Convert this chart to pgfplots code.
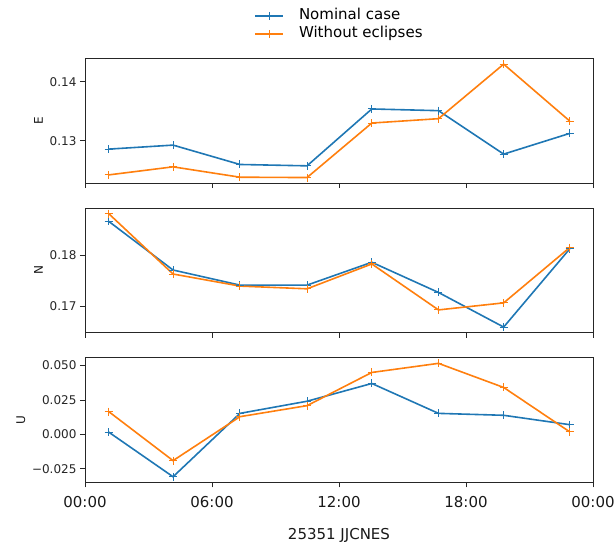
\documentclass[border=0pt]{standalone}
\usepackage{fontspec}
\setmainfont{DejaVu Sans}
\usepackage{pgfplots}
\pgfplotsset{compat=1.18}
\definecolor{tabblue}{HTML}{1F77B4}
\definecolor{taborange}{HTML}{FF7F0E}
\pgfplotstableread{
t      Eb      Eo      Nb      No      Ub      Uo
1.12   0.12858 0.12420 0.18660 0.18810 0.0017  0.0166
4.16   0.12926 0.12557 0.17712 0.17634 -0.0307 -0.0190
7.32   0.12597 0.12381 0.17418 0.17399 0.0153  0.0129
10.49  0.12574 0.12375 0.17418 0.17346 0.0241  0.0209
13.55  0.13540 0.13301 0.17863 0.17830 0.0370  0.0450
16.70  0.13511 0.13375 0.17275 0.16935 0.0153  0.0516
19.78  0.12773 0.14301 0.16601 0.17072 0.0139  0.0341
22.90  0.13125 0.13335 0.18124 0.18150 0.0071  0.0019
}\data
\pgfplotsset{
  panel/.style={
    scale only axis, width=508pt, height=124.7pt,
    xmin=0, xmax=24, xtick={0,6,12,18,24},
    axis line style={black!85, line width=0.8pt},
    tick style={black!85, line width=0.8pt},
    tick align=outside, major tick length=5pt,
    tick pos=left, minor tick num=0,
    scaled y ticks=false, scaled x ticks=false,
    y tick label style={font=\fontsize{12}{14}\selectfont, text=black!85},
    x tick label style={font=\fontsize{15}{18}\selectfont, text=black!90, yshift=-5pt},
    ylabel style={font=\fontsize{12}{14}\selectfont, text=black!90},
    every axis plot/.append style={line width=1.6pt, mark=+, mark size=4pt, mark options={line width=1pt}},
    anchor=north west,
  },
  legend image code/.code={\draw[#1,mark repeat=2,mark phase=2] plot coordinates {(0pt,0pt) (14pt,0pt) (28pt,0pt)};},
}
\begin{document}
\begin{tikzpicture}
\begin{axis}[panel, at={(85pt,-58.5pt)},
  ymin=0.12279, ymax=0.14397, ytick={0.13,0.14}, yticklabels={0.13,0.14},
  xticklabels={}, ylabel={E},
  legend style={at={(0.5,1)}, anchor=south, yshift=14pt, draw=none, fill=none,
    font=\fontsize{15}{18}\selectfont, row sep=1.5pt,
    nodes={inner sep=1pt, text height=11pt, text depth=3.5pt},
    /tikz/every odd column/.append style={column sep=14pt}},
  legend cell align=left]
\addplot[tabblue] table[x=t,y=Eb]{\data};
\addlegendentry{Nominal case}
\addplot[taborange] table[x=t,y=Eo]{\data};
\addlegendentry{Without eclipses}
\end{axis}
\begin{axis}[panel, at={(85pt,-208pt)},
  ymin=0.16491, ymax=0.18920, ytick={0.17,0.18}, yticklabels={0.17,0.18},
  xticklabels={}, ylabel={N}]
\addplot[tabblue] table[x=t,y=Nb]{\data};
\addplot[taborange] table[x=t,y=No]{\data};
\end{axis}
\begin{axis}[panel, at={(85pt,-357.7pt)},
  ymin=-0.0348, ymax=0.0557, ytick={-0.025,0,0.025,0.05},
  yticklabels={−0.025,0.000,0.025,0.050},
  xticklabels={00:00,06:00,12:00,18:00,00:00},
  ylabel={U}, xlabel={25351 JJCNES},
  xlabel style={font=\fontsize{15}{18}\selectfont, text=black!90, yshift=-14pt}]
\addplot[tabblue] table[x=t,y=Ub]{\data};
\addplot[taborange] table[x=t,y=Uo]{\data};
\end{axis}
\pgfresetboundingbox
\path[use as bounding box] (0,0) rectangle (614pt,-544pt);
\end{tikzpicture}
\end{document}
